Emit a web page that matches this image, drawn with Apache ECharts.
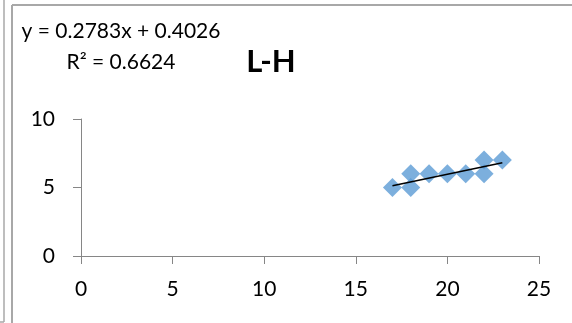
<!DOCTYPE html>
<html>
<head>
<meta charset="utf-8">
<script src="https://cdn.jsdelivr.net/npm/echarts@6/dist/echarts.min.js"></script>
<style>
  html, body { margin: 0; padding: 0; background: #fff; }
  #chart { width: 572px; height: 323px; }
</style>
</head>
<body>
<div id="chart"></div>
<script>
// Observed L vs H pairs
const xValues = [17, 18, 18, 19, 20, 21, 22, 22, 23];
const yValues = [5, 5, 6, 6, 6, 6, 6, 7, 7];

// Linear trendline as reported on the chart
const trendSlope = 0.2783;
const trendIntercept = 0.4026;
const trendR2 = '0.6624';

const xTicks = [0, 5, 10, 15, 20, 25];
const yTicks = [0, 5, 10];

const chartTitle = 'L-H';

const points = xValues.map((x, i) => [x, yValues[i]]);
const xMinData = Math.min(...xValues);
const xMaxData = Math.max(...xValues);
const trendLine = [xMinData, xMaxData].map(x => [x, trendSlope * x + trendIntercept]);

const FONT = 'Lato';
const BORDER = '#a8a8a8';

const chart = echarts.init(document.getElementById('chart'), null, { renderer: 'canvas' });

chart.setOption({
  animation: false,
  backgroundColor: '#fff',
  grid: { left: 81, right: 33, top: 119, bottom: 67, containLabel: false },
  xAxis: {
    type: 'value',
    min: xTicks[0],
    max: xTicks[xTicks.length - 1],
    interval: 5,
    splitLine: { show: false },
    axisLine: { show: true, onZero: false, lineStyle: { color: '#868686', width: 1 } },
    axisTick: { show: true, length: 8, lineStyle: { color: '#868686' } },
    axisLabel: { color: '#000', fontFamily: FONT, fontSize: 21, margin: 23 }
  },
  yAxis: {
    type: 'value',
    min: yTicks[0],
    max: yTicks[yTicks.length - 1],
    interval: 5,
    splitLine: { show: false },
    axisLine: { show: true, onZero: false, lineStyle: { color: '#868686', width: 1 } },
    axisTick: { show: true, length: 8, lineStyle: { color: '#868686' } },
    axisLabel: { color: '#000', fontFamily: FONT, fontSize: 21, margin: 26 }
  },
  series: [
    {
      type: 'scatter',
      data: points,
      symbol: 'diamond',
      symbolSize: [19, 19],
      itemStyle: { color: '#5b9bd5' },
      z: 2
    },
    {
      type: 'line',
      data: trendLine,
      showSymbol: false,
      symbol: 'none',
      lineStyle: { color: '#000', width: 1.5 },
      z: 3
    }
  ],
  graphic: [
    // chart frame
    { type: 'line', shape: { x1: 12, y1: 5, x2: 572, y2: 5 }, style: { stroke: BORDER, lineWidth: 2 } },
    { type: 'line', shape: { x1: 12, y1: 5, x2: 12, y2: 323 }, style: { stroke: BORDER, lineWidth: 2 } },
    // neighbouring frame edge
    { type: 'line', shape: { x1: 4, y1: 0, x2: 4, y2: 322 }, style: { stroke: BORDER, lineWidth: 1.5 } },
    { type: 'line', shape: { x1: 0, y1: 322, x2: 4, y2: 322 }, style: { stroke: BORDER, lineWidth: 1.5 } },
    // trendline label
    {
      type: 'text', x: 121, y: 31,
      style: { text: 'y = ' + trendSlope + 'x + ' + trendIntercept, fill: '#000', font: '21px ' + FONT, textAlign: 'center', textVerticalAlign: 'middle' }
    },
    {
      type: 'text', x: 121, y: 62,
      style: { text: 'R² = ' + trendR2, fill: '#000', font: '21px ' + FONT, textAlign: 'center', textVerticalAlign: 'middle' }
    },
    // title
    {
      type: 'text', x: 271, y: 62,
      style: { text: chartTitle, fill: '#000', font: 'bold 31px ' + FONT, textAlign: 'center', textVerticalAlign: 'middle' }
    }
  ]
});
</script>
</body>
</html>
